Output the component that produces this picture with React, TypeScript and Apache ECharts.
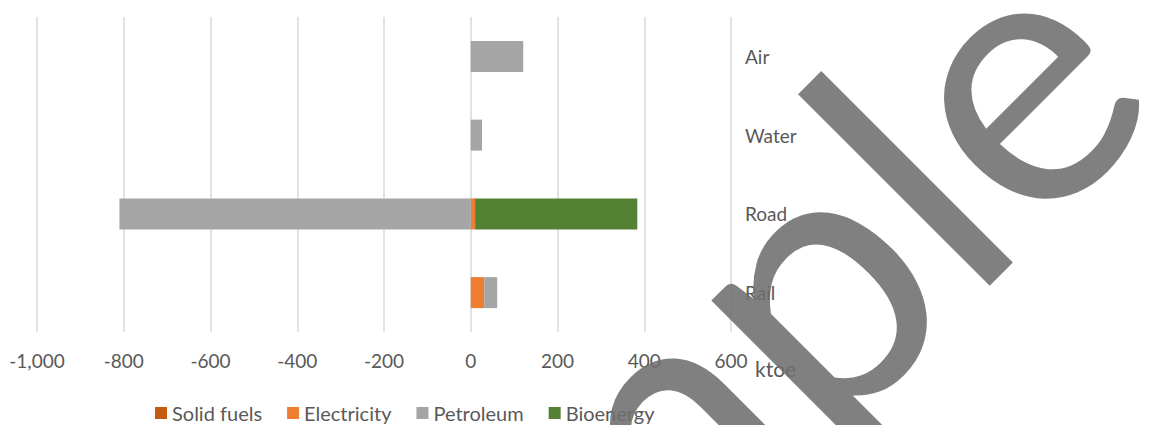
import React, { useEffect, useRef } from "react";
import * as echarts from "echarts";

const categories = ["Rail", "Road", "Water", "Air"];
const seriesNames = ["Solid fuels", "Electricity", "Petroleum", "Bioenergy"];
const solidFuels = [0, 0, 0, 0];
const electricity = [31, 10, 0, 0];
const petroleum = [30, -810, 26, 121];
const bioenergy = [0, 374, 0, 0];
const colors = ["#C55A11", "#ED7D31", "#A5A5A5", "#548235"];
const xTicks = { min: -1000, max: 600, interval: 200 };
const unitLabel = "ktoe";
const watermark = "Sample";

const FONT = "Lato, 'Noto Sans', sans-serif";

export default function App() {
  const ref = useRef<HTMLDivElement>(null);
  useEffect(() => {
    document.body.style.margin = "0";
    if (!ref.current) return;
    const chart = echarts.init(ref.current, null, { renderer: "svg" });
    const dataSets = [solidFuels, electricity, petroleum, bioenergy];
    chart.setOption({
      animation: false,
      textStyle: { fontFamily: FONT },
      grid: { left: 37, right: 418, top: 17, bottom: 93, containLabel: false },
      xAxis: {
        type: "value",
        min: xTicks.min,
        max: xTicks.max,
        interval: xTicks.interval,
        axisLine: { show: false },
        axisTick: { show: false },
        splitLine: { show: true, lineStyle: { color: "#D9D9D9", width: 1.5 } },
        axisLabel: {
          color: "#595959",
          fontSize: 19,
          fontFamily: FONT,
          margin: 19,
          formatter: (v: number) => v.toLocaleString("en-US"),
        },
      },
      yAxis: {
        type: "category",
        data: categories,
        position: "right",
        axisLine: { show: false },
        axisTick: { show: false },
        splitLine: { show: false },
        axisLabel: {
          color: "#595959",
          fontSize: 19,
          fontFamily: FONT,
          margin: 14,
          align: "left",
        },
      },
      legend: {
        left: 155,
        top: 403,
        itemWidth: 12,
        itemHeight: 12,
        itemGap: 25,
        icon: "rect",
        padding: 0,
        textStyle: { color: "#595959", fontSize: 20, lineHeight: 19, fontFamily: FONT },
        data: seriesNames,
      },
      series: seriesNames.map((name, i) => ({
        name,
        type: "bar",
        stack: "total",
        data: dataSets[i],
        barWidth: 31,
        itemStyle: { color: colors[i] },
      })),
      graphic: [
        {
          type: "text",
          left: 755,
          top: 358,
          style: {
            text: unitLabel,
            fill: "#595959",
            fontSize: 21,
            fontFamily: FONT,
          },
        },
        {
          type: "text",
          x: 655,
          y: 419,
          rotation: Math.PI / 4,
          z: 100,
          style: {
            text: watermark,
            fill: "rgba(110,110,110,0.88)",
            fontSize: 368,
            fontFamily: FONT,
            textAlign: "center",
            textVerticalAlign: "middle",
          },
        },
      ],
    });
    return () => chart.dispose();
  }, []);
  return <div ref={ref} style={{ width: 1149, height: 425 }} />;
}
